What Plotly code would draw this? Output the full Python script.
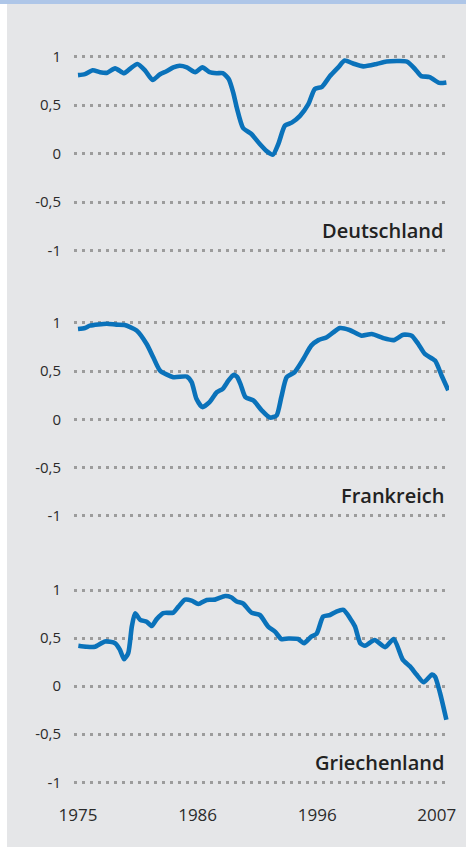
import plotly.graph_objects as go

# time index: 0 = 1975 ... 30 = 2007 (labels equally spaced as in the source)
tick_pos = [0, 10, 20, 30]
tick_years = ["1975", "1986", "1996", "2007"]
y_ticks = [-1, -0.5, 0, 0.5, 1]
y_tick_text = ["-1", "-0,5", "0", "0,5", "1"]

countries = ["Deutschland", "Frankreich", "Griechenland"]

t_de = [0, 0.58, 1.23, 1.84, 2.45, 3.1, 3.85, 4.4, 4.96, 5.6, 6.24, 6.86, 7.4, 7.97,
        8.5, 9.1, 9.8, 10.4, 11.0, 11.6, 12.1, 12.6, 13.0, 13.27, 13.8, 14.5, 15.2,
        15.8, 16.3, 16.75, 17.3, 17.87, 18.56, 19.26, 19.8, 20.4, 21.07, 21.76, 22.3,
        23.0, 23.85, 24.97, 25.8, 27.5, 28.2, 28.7, 29.4, 30.2, 30.8]
v_de = [0.81, 0.82, 0.86, 0.84, 0.835, 0.88, 0.83, 0.88, 0.925, 0.86, 0.76, 0.82,
        0.85, 0.89, 0.907, 0.89, 0.84, 0.89, 0.84, 0.83, 0.83, 0.77, 0.62, 0.477,
        0.265, 0.203, 0.10, 0.024, -0.01, 0.10, 0.289, 0.32, 0.39, 0.51, 0.667, 0.69,
        0.80, 0.89, 0.96, 0.93, 0.90, 0.925, 0.95, 0.95, 0.87, 0.80, 0.79, 0.73, 0.735]

t_fr = [0.0, 0.58, 1.0, 2.4, 3.2, 3.9, 4.9, 5.74, 6.3, 6.86, 7.97, 9.1, 9.5, 9.9,
        10.4, 11.0, 11.6, 12.1, 12.57, 13.0, 13.3, 13.6, 14.0, 14.66, 15.36, 16.05,
        16.6, 17.0, 17.45, 18.1, 18.84, 19.5, 20.1, 20.8, 21.35, 21.9, 22.7, 23.7,
        24.56, 25.5, 26.4, 27.2, 27.9, 28.45, 29.0, 29.85, 30.4, 30.96]
v_fr = [0.935, 0.945, 0.97, 0.99, 0.98, 0.976, 0.92, 0.78, 0.64, 0.505, 0.436,
        0.443, 0.385, 0.213, 0.127, 0.178, 0.28, 0.316, 0.40, 0.46, 0.44, 0.36,
        0.23, 0.196, 0.093, 0.018, 0.04, 0.23, 0.436, 0.487, 0.625, 0.763, 0.82,
        0.85, 0.90, 0.945, 0.925, 0.866, 0.883, 0.842, 0.82, 0.876, 0.866, 0.78,
        0.677, 0.608, 0.454, 0.30]

t_gr = [0.03, 0.72, 1.42, 2.26, 3.1, 3.5, 3.85, 4.2, 4.5, 4.77, 5.2, 5.74, 6.16,
        6.58, 7.13, 7.97, 8.4, 8.95, 9.5, 10.06, 10.76, 11.45, 12.3, 12.8, 13.27,
        13.8, 14.5, 15.2, 15.9, 16.47, 17.0, 17.6, 18.4, 18.9, 19.5, 19.95, 20.5,
        21.07, 21.6, 22.2, 22.74, 23.16, 23.6, 24.0, 24.8, 25.67, 26.4, 27.15,
        27.76, 28.3, 28.9, 29.6, 29.85, 30.27, 30.8]
v_gr = [0.42, 0.41, 0.41, 0.465, 0.447, 0.38, 0.28, 0.344, 0.62, 0.757, 0.69,
        0.67, 0.625, 0.697, 0.76, 0.765, 0.827, 0.90, 0.89, 0.855, 0.897, 0.90,
        0.938, 0.925, 0.88, 0.86, 0.765, 0.74, 0.62, 0.567, 0.49, 0.495, 0.49,
        0.447, 0.516, 0.545, 0.724, 0.74, 0.776, 0.793, 0.707, 0.62, 0.447, 0.42,
        0.48, 0.406, 0.49, 0.276, 0.206, 0.12, 0.04, 0.12, 0.10, -0.07, -0.35]

series = [(t_de, v_de), (t_fr, v_fr), (t_gr, v_gr)]

W, H = 466, 847
LINE = "#0a72ba"
GRID = "#9c9c9c"
TXT = "#2b2b2b"
BG = "#e5e6e8"

# panel pixel geometry (top of y=1.05, bottom of y=-1.05)
panels = [(51.85, 255.55), (317.9, 520.8), (585.2, 787.1)]
x_left_px, x_right_px = 74, 449
px_per_t = 11.96
x_range = [(x_left_px - 78) / px_per_t, (x_right_px - 78) / px_per_t]

fig = go.Figure()
for i, ((t, v), name, (top, bot)) in enumerate(zip(series, countries, panels)):
    k = "" if i == 0 else str(i + 1)
    fig.add_trace(go.Scatter(x=t, y=v, mode="lines", xaxis="x" + k, yaxis="y" + k,
                             line=dict(color=LINE, width=4.6, shape="spline", smoothing=0.6),
                             showlegend=False, hoverinfo="skip"))
    fig.update_layout(**{
        "xaxis" + k: dict(domain=[x_left_px / W, x_right_px / W], range=x_range,
                          anchor="y" + k, showgrid=False, zeroline=False, showline=False,
                          automargin=False,
                          tickvals=tick_pos, ticktext=tick_years,
                          showticklabels=(i == 2), ticks="outside" if i == 2 else "",
                          ticklen=12, tickcolor="rgba(0,0,0,0)",
                          tickfont=dict(family="Open Sans", size=17, color=TXT)),
        "yaxis" + k: dict(domain=[(H - bot) / H, (H - top) / H], range=[-1.05, 1.05],
                          anchor="x" + k, tickvals=y_ticks, ticktext=y_tick_text,
                          automargin=False,
                          showgrid=True, gridcolor=GRID, gridwidth=2.6,
                          griddash="2.6px,5.4px", zeroline=False, showline=False,
                          ticks="outside", ticklen=9, tickcolor="rgba(0,0,0,0)",
                          tickfont=dict(family="Open Sans", size=15, color=TXT)),
    })
    fig.add_annotation(x=446 / W, xref="paper", y=-0.79, yref="y" + k,
                       text=name, showarrow=False, xanchor="right", yanchor="middle",
                       font=dict(family="Open Sans", size=20, color="#222222", weight=600))

fig.update_layout(
    width=W, height=H, margin=dict(l=0, r=0, t=0, b=0, autoexpand=False),
    paper_bgcolor=BG, plot_bgcolor=BG,
    shapes=[
        dict(type="rect", xref="paper", yref="paper", x0=0, x1=7 / W, y0=0, y1=1,
             fillcolor="white", line=dict(width=0), layer="below"),
        dict(type="rect", xref="paper", yref="paper", x0=0, x1=1, y0=1 - 4 / H, y1=1,
             fillcolor="#aec6e8", line=dict(width=0), layer="below"),
    ],
)

fig.write_html("out.html", config={"displayModeBar": False},
               post_script="document.body.style.margin='0';document.body.style.overflow='hidden';")
